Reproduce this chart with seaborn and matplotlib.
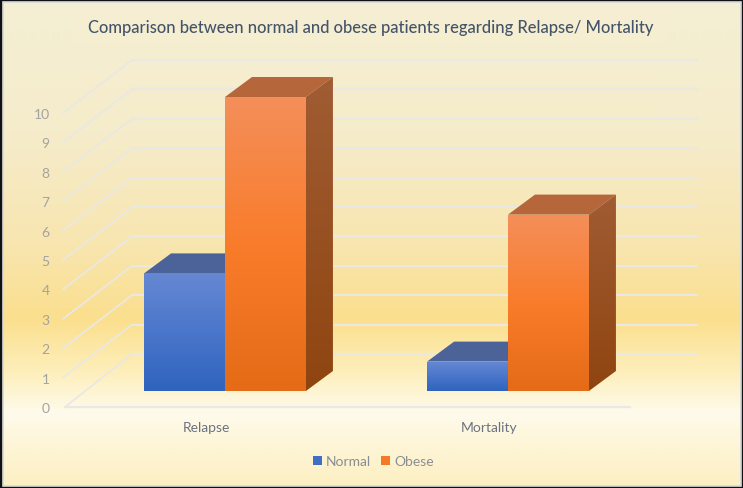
import numpy as np
import pandas as pd
import matplotlib
matplotlib.use("Agg")
import matplotlib.pyplot as plt
from matplotlib.colors import LinearSegmentedColormap
from matplotlib.patches import Polygon, Rectangle
from matplotlib.transforms import IdentityTransform
import seaborn as sns

sns.set_theme(style="white")
plt.rcParams['font.family'] = ['Lato', 'DejaVu Sans']

categories = ["Relapse", "Mortality"]
normal_values = [4, 1]
obese_values = [10, 6]
series_names = ["Normal", "Obese"]
y_ticks = list(range(0, 11))
title_text = "Comparison between normal and obese patients regarding Relapse/ Mortality"

W, H = 743, 489
DPI = 100


def px_axes(fig, left, top, right, bottom):
    # axes placed by reference pixel box
    return fig.add_axes([left / W, 1 - bottom / H, (right - left) / W, (bottom - top) / H])


def v_gradient(stops):
    return LinearSegmentedColormap.from_list("g", stops)


def fill_gradient(ax, pts, stops, zorder):
    # paint a vertical gradient inside a polygon given in display pixels
    pts = np.array(pts)
    poly = Polygon(pts, closed=True, transform=IdentityTransform(), facecolor="none", edgecolor="none", zorder=zorder)
    ax.add_patch(poly)
    grad = np.linspace(0, 1, 256).reshape(-1, 1)
    im = ax.imshow(grad, cmap=v_gradient(stops), aspect="auto", origin="upper",
                   extent=(pts[:, 0].min(), pts[:, 0].max(), pts[:, 1].min(), pts[:, 1].max()),
                   transform=IdentityTransform(), zorder=zorder, interpolation="bilinear")
    im.set_clip_path(poly)


fig = plt.figure(figsize=(W / DPI, H / DPI), dpi=DPI)

# --- background
bg = fig.add_axes([0, 0, 1, 1])
bg_stops = [(0.0, "#f5efd4"), (0.27, "#f5eccb"), (0.50, "#f8e6b0"), (0.655, "#fbdf8e"),
            (0.76, "#fdeeb9"), (0.85, "#fffbec"), (0.92, "#fef5d6"), (1.0, "#fcefc2")]
bg.imshow(np.linspace(0, 1, 489).reshape(-1, 1), cmap=LinearSegmentedColormap.from_list("bg", bg_stops),
          aspect="auto", interpolation="bilinear")
bg.axis("off")

# --- front plane of the chart box: ticks, labels, floor
wall = px_axes(fig, 65, 114, 630, 408)
wall.patch.set_alpha(0)
wall.set_xlim(-0.5, 1.5)
wall.set_ylim(0, 10)
sns.despine(ax=wall, left=True, bottom=True, top=True, right=True)
wall.set_xticks(range(len(categories)), categories, color="#6d7280", fontsize=10)
wall.set_yticks(y_ticks, [str(t) for t in y_ticks], color="#a3a3a0", fontsize=10)
wall.tick_params(axis="y", length=0, pad=11)
wall.tick_params(axis="x", length=0, pad=10)

grid_color = "#e9e8e2"
depth_x, depth_y = 67, 53
wall.figure.canvas.draw()
for t in y_ticks:
    x0, y0 = wall.transData.transform((-0.5, t))
    x1, y1 = wall.transData.transform((1.5, t))
    wall.plot([x0 - 2 * (t > 0), x0 + depth_x], [y0, y0 + depth_y], transform=IdentityTransform(),
              color=grid_color, lw=1.3, clip_on=False)
    wall.plot([x0 + depth_x, x1 + depth_x], [y0 + depth_y, y1 + depth_y], transform=IdentityTransform(),
              color=grid_color, lw=1.5, clip_on=False)
x0, y0 = wall.transData.transform((-0.5, 0))
x1, y1 = wall.transData.transform((1.5, 0))
wall.plot([x0, x1], [y0, y1], transform=IdentityTransform(), color="#e9e8e4", lw=1.6, clip_on=False)

# --- bars, plane of their front faces (axes runs past 10 so the box tops are not clipped)
df = pd.DataFrame({
    "category": categories * 2,
    "series": [series_names[0]] * 2 + [series_names[1]] * 2,
    "value": normal_values + obese_values,
})
ax = px_axes(fig, 83.5, 392 - 12 * 29.4, 649.5, 392)
ax.patch.set_alpha(0)
sns.barplot(data=df, x="category", y="value", hue="series", hue_order=series_names,
            palette=["#3f6fc4", "#f57a28"], width=0.572, gap=0, saturation=1, legend=True,
            linewidth=0, ax=ax)
ax.set_xlim(-0.5, 1.5)
ax.set_ylim(0, 12)
ax.set(xlabel="", ylabel="", xticks=[], yticks=[])
sns.despine(ax=ax, left=True, bottom=True)

handles, labels = ax.get_legend_handles_labels()
ax.get_legend().remove()

fig.canvas.draw()
bar_dx, bar_dy = 27, 20
face_stops = {
    0: ["#6688d2", "#4a76cb", "#2f64bc"],
    1: ["#f48f5a", "#f97c2b", "#e56b17"],
}
side_stops = {
    0: ["#3f5f9c", "#264f8f"],
    1: ["#a05c33", "#8f4510"],
}
top_color = {0: "#4b6399", 1: "#b5663b"}

for s, container in enumerate(ax.containers):
    for bar in container:
        bar.set_zorder(2 + s * 3)
        (xa, ya), (xb, yb) = ax.transData.transform(
            [(bar.get_x(), 0), (bar.get_x() + bar.get_width(), bar.get_height())])
        z = 1 + s * 3
        ax.add_patch(Polygon([(xa, yb), (xb, yb), (xb + bar_dx, yb + bar_dy), (xa + bar_dx, yb + bar_dy)],
                             closed=True, transform=IdentityTransform(), facecolor=top_color[s],
                             edgecolor="none", zorder=z))
        fill_gradient(ax, [(xb, ya), (xb + bar_dx, ya + bar_dy), (xb + bar_dx, yb + bar_dy), (xb, yb)],
                      side_stops[s], z)
        fill_gradient(ax, [(xa, ya), (xb, ya), (xb, yb), (xa, yb)], face_stops[s], z + 1.5)
ax.set_xlim(-0.5, 1.5)
ax.set_ylim(0, 12)

# --- title and legend
fig.text(370.5 / W, 1 - 28 / H, title_text, ha="center", va="center", color="#44546a",
         fontsize=11.9, fontweight="medium")
leg = fig.legend(handles, labels, loc="center", bbox_to_anchor=(373.5 / W, 1 - 462 / H), ncol=2, frameon=False,
                 fontsize=10, labelcolor="#8a8d92", handlelength=0.62, handleheight=0.62,
                 handletextpad=0.3, columnspacing=0.72, borderpad=0)

# --- frame
for lw, color in [(5.0, "#d9dcdc"), (2.4, "#111111")]:
    fig.add_artist(Rectangle((0, 0), 1, 1, transform=fig.transFigure, fill=False, edgecolor=color, linewidth=lw))

fig.savefig("out.png", dpi=DPI)
